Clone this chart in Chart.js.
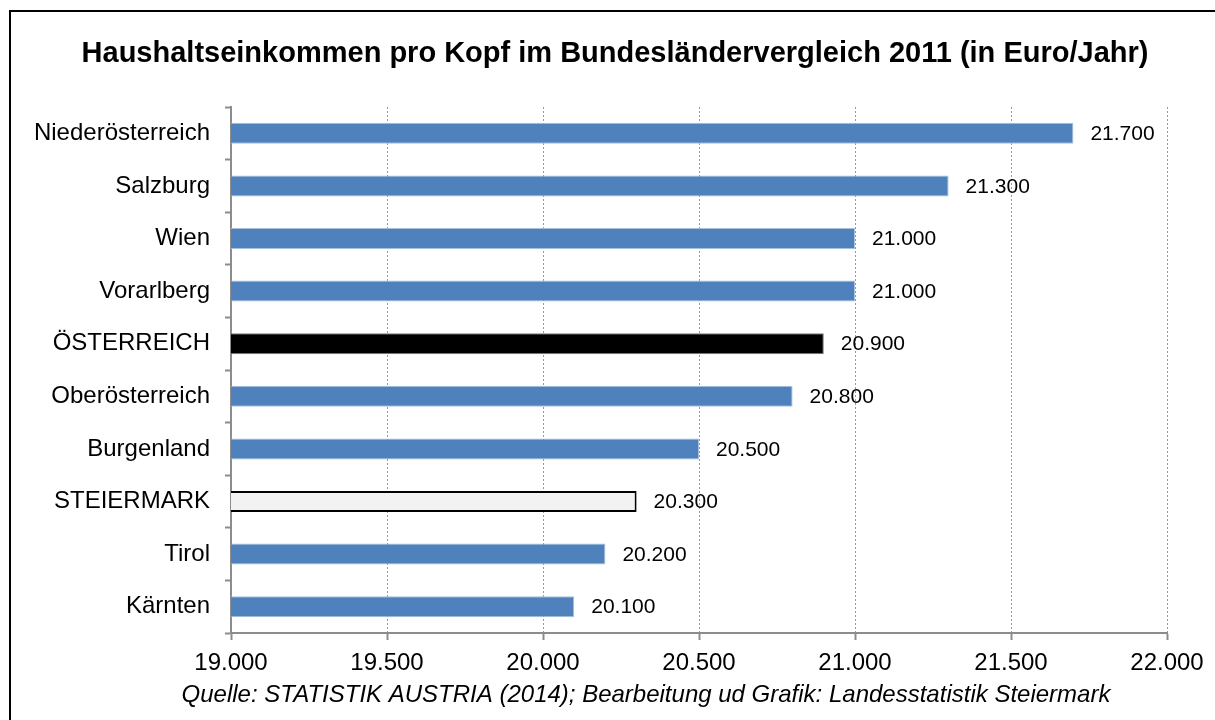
<!DOCTYPE html>
<html><head><meta charset="utf-8">
<script src="https://cdn.jsdelivr.net/npm/chart.js@4.4.1/dist/chart.umd.min.js"></script>
<style>
html,body{margin:0;padding:0;background:#fff;overflow:hidden;}
#wrap{position:relative;width:1215px;height:720px;overflow:hidden;}
#frame{position:absolute;left:9px;top:10px;width:1300px;height:800px;border:2px solid #000;pointer-events:none;}
canvas{position:absolute;left:0;top:0;}
</style></head><body>
<div id="wrap"><canvas id="c" width="1215" height="720"></canvas><div id="frame"></div></div>
<script>
const titleText = "Haushaltseinkommen pro Kopf im Bundesländervergleich 2011 (in Euro/Jahr)";
const sourceText = "Quelle: STATISTIK AUSTRIA (2014); Bearbeitung ud Grafik: Landesstatistik Steiermark";
const categories = ["Niederösterreich","Salzburg","Wien","Vorarlberg","ÖSTERREICH","Oberösterreich","Burgenland","STEIERMARK","Tirol","Kärnten"];
const values = [21700,21300,21000,21000,20900,20800,20500,20300,20200,20100];
const barColors = ["#4F81BD","#4F81BD","#4F81BD","#4F81BD","#000000","#4F81BD","#4F81BD","#F2F2F2","#4F81BD","#4F81BD"];
const barBorders = ["#A7C0DE","#A7C0DE","#A7C0DE","#A7C0DE","#7F7F7F","#A7C0DE","#A7C0DE","#000000","#A7C0DE","#A7C0DE"];
const barBorderWidths = [1,1,1,1,1,1,1,2,1,1];
const xTicks = [19000,19500,20000,20500,21000,21500,22000];

const FONT = "'Liberation Sans', Arial, sans-serif";
const fmt = v => String(v).replace(/\B(?=(\d{3})+(?!\d))/g, '.');

const textPlugin = {
  id: 'texts',
  afterDatasetsDraw(chart) {
    const ctx = chart.ctx;
    const meta = chart.getDatasetMeta(0);
    ctx.save();
    ctx.fillStyle = '#000';
    ctx.font = '21px ' + FONT;
    ctx.textAlign = 'left';
    ctx.textBaseline = 'middle';
    meta.data.forEach((bar, i) => {
      ctx.fillText(fmt(values[i]), bar.x + 17, bar.y + 1);
    });
    ctx.restore();
  },
  afterDraw(chart) {
    const ctx = chart.ctx;
    ctx.save();
    ctx.fillStyle = '#000';
    ctx.textAlign = 'center';
    ctx.textBaseline = 'middle';
    ctx.font = 'bold 29px ' + FONT;
    ctx.fillText(titleText, 615, 54);
    ctx.font = 'italic 24px ' + FONT;
    ctx.fillText(sourceText, 646, 695);
    ctx.restore();
  }
};

new Chart(document.getElementById('c'), {
  type: 'bar',
  data: {
    labels: categories,
    datasets: [{
      data: values,
      backgroundColor: barColors,
      borderColor: barBorders,
      borderWidth: barBorderWidths,
      barPercentage: 0.4,
      categoryPercentage: 1.0
    }]
  },
  options: {
    indexAxis: 'y',
    responsive: false,
    animation: false,
    layout: { padding: { top: 107, right: 48, bottom: 0, left: 0 } },
    plugins: { legend: { display: false }, tooltip: { enabled: false }, title: { display: false } },
    scales: {
      x: {
        min: 19000, max: 22000,
        afterBuildTicks: s => { s.ticks = xTicks.map(v => ({ value: v })); },
        afterFit: s => { s.height = 87; },
        ticks: { callback: v => fmt(v), font: { family: FONT, size: 24 }, color: '#000', padding: 9, maxRotation: 0, autoSkip: false },
        grid: { color: '#999999', lineWidth: 1, tickLength: 7, tickColor: '#8c8c8c', tickWidth: 2 },
        border: { color: '#8c8c8c', width: 2, dash: [2, 2] }
      },
      y: {
        afterFit: s => { s.width = 231; },
        ticks: { font: { family: FONT, size: 24 }, color: '#000', padding: 15 },
        grid: { drawOnChartArea: false, tickLength: 6, color: '#8c8c8c', tickWidth: 2, offset: true },
        border: { color: '#8c8c8c', width: 2 }
      }
    }
  },
  plugins: [textPlugin]
});
</script>
</body></html>
